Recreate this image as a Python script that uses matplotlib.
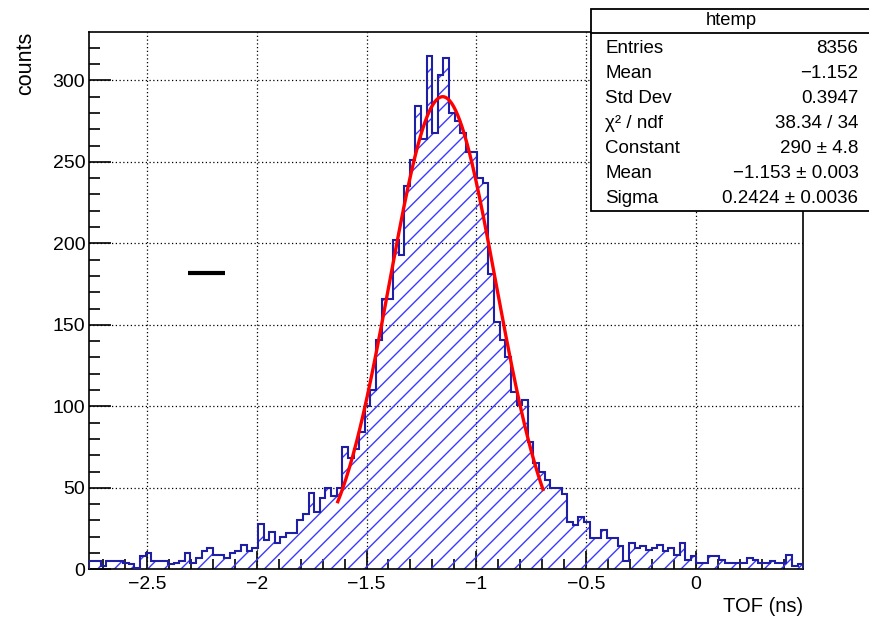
import numpy as np
import matplotlib
matplotlib.use('Agg')
import matplotlib.pyplot as plt
from matplotlib.ticker import FixedLocator, MultipleLocator, FuncFormatter
from matplotlib.patches import Rectangle
from matplotlib.lines import Line2D

plt.rcParams['font.family'] = ['Liberation Sans', 'DejaVu Sans']
plt.rcParams['hatch.linewidth'] = 1.0

# histogram: 127 bins between x_lo and x_hi
x_lo, x_hi = -2.763, 0.490
counts = [5, 5, 2, 5, 5, 5, 4, 3, 1, 8, 10, 5, 5, 5, 3, 4, 5, 10, 4, 7,
          11, 13, 9, 9, 7, 10, 11, 15, 11, 13,
          28, 18, 23, 16, 20, 22, 22, 30, 34, 47, 35, 44, 50, 45, 50, 75, 68, 74, 84, 100,
          110, 141, 166, 166, 202, 193, 235, 251, 284, 264, 315, 268, 303, 314, 280, 275,
          268, 256, 256, 240, 237,
          181, 152, 141, 130, 109, 101, 104, 78, 65, 60, 55, 50, 50, 46, 29, 27, 32, 29,
          19, 19, 24, 19, 19, 14, 5, 16, 13, 14, 12, 13, 15, 11, 13, 9, 16, 6, 8, 4,
          4, 8, 8, 6, 4, 4, 4, 4, 7, 6, 4, 4, 5, 4, 4, 9, 2, 3]
edges = np.linspace(x_lo, x_hi, len(counts) + 1)

# gaus fit parameters
fit_const, fit_mean, fit_sigma = 290.0, -1.153, 0.2424
fit_lo, fit_hi = -1.631, -0.696

# little black marker line
mark_x = [-2.313, -2.144]
mark_y = [182, 182]

x_ticks = [-2.5, -2, -1.5, -1, -0.5, 0]
y_ticks = [0, 50, 100, 150, 200, 250, 300]

stat_names = ['Entries', 'Mean', 'Std Dev', 'χ² / ndf', 'Constant', 'Mean', 'Sigma']
stat_values = ['8356', '−1.152', '0.3947', '38.34 / 34', '290 ± 4.8',
               '−1.153 ± 0.003', '0.2424 ± 0.0036']

W, H = 870, 620
fig = plt.figure(figsize=(W / 100, H / 100), dpi=100)
ax = fig.add_axes([89.3 / W, 1 - 569.3 / H, (803.3 - 89.3) / W, (569.3 - 32.3) / H])

ax.stairs(counts, edges, fill=True, facecolor='none', edgecolor='#3a3aff',
          hatch='//', linewidth=0, zorder=2)
ax.stairs(counts, edges, color='#1f1fa6', linewidth=1.5, zorder=3)

xf = np.linspace(fit_lo, fit_hi, 300)
ax.plot(xf, fit_const * np.exp(-0.5 * ((xf - fit_mean) / fit_sigma) ** 2),
        color='#ff0000', lw=2.4, zorder=4)

ax.plot(mark_x, mark_y, color='black', lw=3, solid_capstyle='butt', zorder=4)

ax.set_xlim(x_lo, x_hi)
ax.set_ylim(0, 329.5)
ax.xaxis.set_major_locator(FixedLocator(x_ticks))
ax.xaxis.set_minor_locator(MultipleLocator(0.1))
ax.yaxis.set_major_locator(FixedLocator(y_ticks))
ax.yaxis.set_minor_locator(MultipleLocator(10))
ax.xaxis.set_major_formatter(FuncFormatter(lambda v, p: ('%g' % v).replace('-', '−')))
ax.yaxis.set_major_formatter(FuncFormatter(lambda v, p: '%d' % v))
ax.tick_params(axis='both', which='both', direction='in', top=False, right=False,
               labelsize=14, width=1.2, color='black')
ax.tick_params(axis='x', which='major', length=13, pad=5)
ax.tick_params(axis='x', which='minor', length=7)
ax.tick_params(axis='y', which='major', length=16, pad=3)
ax.tick_params(axis='y', which='minor', length=8)
ax.grid(True, which='major', linestyle=(0, (1, 2)), color='black', linewidth=0.9, zorder=1)
ax.set_axisbelow(True)
for s in ax.spines.values():
    s.set_linewidth(1.2)

fig.text(803 / W, 1 - 606 / H, 'TOF (ns)', ha='right', va='center', fontsize=14.5)
fig.text(26 / W, 1 - 32 / H, 'counts', ha='center', va='top', rotation=90, fontsize=15.5)

# stats box, cut off by the right edge of the canvas
box_l, box_t, box_b, sep = 591, 9.3, 210.7, 33.3
fig.patches.append(Rectangle((box_l / W, 1 - box_b / H), (W + 20 - box_l) / W,
                             (box_b - box_t) / H, transform=fig.transFigure,
                             facecolor='white', edgecolor='black', lw=1.3, zorder=10))
fig.lines.append(Line2D([box_l / W, 1.01], [1 - sep / H, 1 - sep / H],
                        transform=fig.transFigure, color='black', lw=1.3, zorder=11))
fig.text(731.7 / W, 1 - 20.7 / H, 'htemp', ha='center', va='center', fontsize=13.2, zorder=12)
for i, (n, v) in enumerate(zip(stat_names, stat_values)):
    yy = 1 - (48.3 + 25 * i) / H
    fig.text(605.5 / W, yy, n, ha='left', va='center', fontsize=13.5, zorder=12)
    fig.text(858.5 / W, yy, v, ha='right', va='center', fontsize=13.5, zorder=12)

fig.savefig('out.png', dpi=100)
